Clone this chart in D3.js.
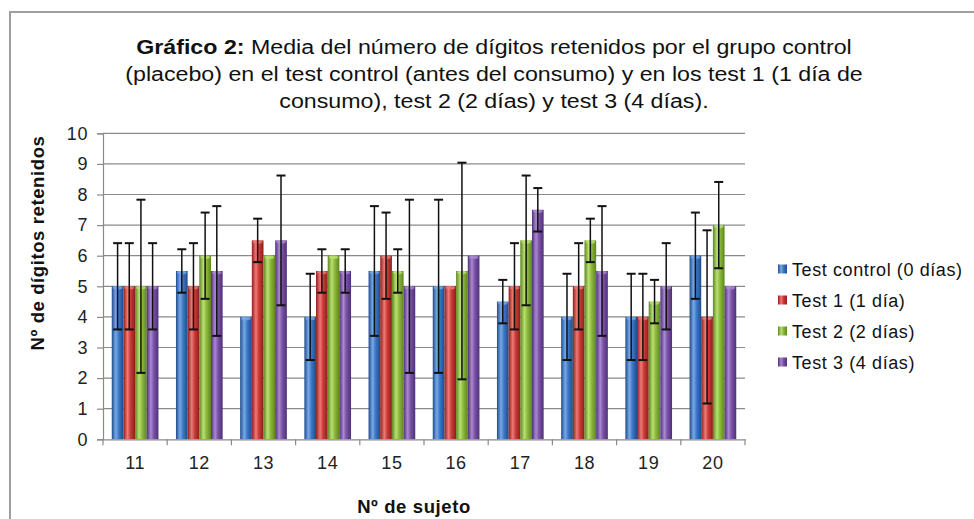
<!DOCTYPE html>
<html>
<head>
<meta charset="utf-8">
<script src="https://cdn.jsdelivr.net/npm/d3@7"></script>
<style>
html,body{margin:0;padding:0;background:#fff;}
svg{display:block;font-family:"Liberation Sans",Arial,Helvetica,sans-serif;}
</style>
</head>
<body>
<svg id="chart" width="974" height="519"></svg>
<script>
// ---- data ----
const subjects = ["11","12","13","14","15","16","17","18","19","20"];
const seriesNames = ["Test control (0 días)","Test 1 (1 día)","Test 2 (2 días)","Test 3 (4 días)"];
const controlValues = [5, 5.5, 4, 4, 5.5, 5, 4.5, 4, 4, 6];
const test1Values   = [5, 5, 6.5, 5.5, 6, 5, 5, 5, 4, 4];
const test2Values   = [5, 6, 6, 6, 5.5, 5.5, 6.5, 6.5, 4.5, 7];
const test3Values   = [5, 5.5, 6.5, 5.5, 5, 6, 7.5, 5.5, 5, 5];
const controlErrors = [1.41, 0.71, 0, 1.41, 2.12, 2.83, 0.71, 1.41, 1.41, 1.41];
const test1Errors   = [1.41, 1.41, 0.71, 0.71, 1.41, 0, 1.41, 1.41, 1.41, 2.83];
const test2Errors   = [2.83, 1.41, 0, 0, 0.71, 3.54, 2.12, 0.71, 0.71, 1.41];
const test3Errors   = [1.41, 2.12, 2.12, 0.71, 2.83, 0, 0.71, 2.12, 1.41, 0];
const yTicks = [0,1,2,3,4,5,6,7,8,9,10];
const titleLines = [
  ["Gráfico 2:", " Media del número de dígitos retenidos por el grupo control"],
  ["", "(placebo) en el test control (antes del consumo) y en los test 1 (1 día de"],
  ["", "consumo), test 2 (2 días) y test 3 (4 días)."]
];
const yTitle = "Nº de dígitos retenidos";
const xTitle = "Nº de sujeto";

const allValues = [controlValues, test1Values, test2Values, test3Values];
const allErrors = [controlErrors, test1Errors, test2Errors, test3Errors];
const colors = ["#3b78c6", "#cc3a37", "#8cba3c", "#7a52a6"];
const darkColors = ["#1e4c8c", "#8a1f1d", "#5e8420", "#4f3078"];
const lightColors = ["#78a9e6", "#ee7a76", "#b9e070", "#a989d0"];

const svg = d3.select("#chart");
const LS = 0.6;

// outer frame
svg.append("rect").attr("x", 10).attr("y", 12).attr("width", 1000).attr("height", 600)
  .attr("fill", "none").attr("stroke", "#9e9e9e").attr("stroke-width", 2);

// gradients
const defs = svg.append("defs");
colors.forEach((c, i) => {
  const g = defs.append("linearGradient").attr("id", "g" + i)
    .attr("x1", "0%").attr("x2", "100%").attr("y1", "0%").attr("y2", "0%");
  g.append("stop").attr("offset", "0%").attr("stop-color", darkColors[i]);
  g.append("stop").attr("offset", "35%").attr("stop-color", lightColors[i]);
  g.append("stop").attr("offset", "60%").attr("stop-color", c);
  g.append("stop").attr("offset", "100%").attr("stop-color", darkColors[i]);
});

// scales
const plotLeft = 103, plotRight = 745, plotTop = 133.3, plotBottom = 439.3;
const y = d3.scaleLinear().domain([0, 10]).range([plotBottom, plotTop]);
const x0 = d3.scaleBand().domain(subjects).range([plotLeft, plotRight]).paddingInner(0).paddingOuter(0);
const barW = x0.bandwidth() / 5.5;
const x1 = d3.scaleBand().domain(d3.range(seriesNames.length)).range([0.75 * barW, 4.75 * barW]);

// gridlines
svg.append("g").selectAll("line").data(yTicks.filter(t => t > 0)).join("line")
  .attr("x1", plotLeft).attr("x2", plotRight)
  .attr("y1", d => y(d)).attr("y2", d => y(d))
  .attr("stroke", "#8a8a8a").attr("stroke-width", 1.2);

// y axis
const yAxis = svg.append("g").attr("transform", `translate(${plotLeft},0)`)
  .call(d3.axisLeft(y).tickValues(yTicks).tickSize(6).tickPadding(9).tickFormat(d3.format("d")));
yAxis.select(".domain").attr("stroke", "#8a8a8a").attr("stroke-width", 1.2);
yAxis.selectAll(".tick line").attr("stroke", "#8a8a8a").attr("stroke-width", 1.2);
yAxis.selectAll("text").attr("font-size", 18).attr("letter-spacing", LS).attr("fill", "#222")
  .attr("font-family", "Liberation Sans, Arial, sans-serif");

// bars
const groups = svg.append("g").selectAll("g").data(subjects).join("g")
  .attr("transform", d => `translate(${x0(d)},0)`);

const barData = (s, si) => seriesNames.map((n, k) => ({k, v: allValues[k][si], e: allErrors[k][si]}));

groups.each(function(s, si) {
  const g = d3.select(this);
  const data = barData(s, si);
  g.selectAll("rect").data(data).join("rect")
    .attr("x", d => x1(d.k)).attr("width", x1.bandwidth())
    .attr("y", d => y(d.v)).attr("height", d => y(0) - y(d.v))
    .attr("fill", d => `url(#g${d.k})`);
  g.selectAll("ellipse").data(data).join("ellipse")
    .attr("cx", d => x1(d.k) + x1.bandwidth() / 2).attr("cy", d => y(d.v) + 1.5)
    .attr("rx", x1.bandwidth() / 2 - 1).attr("ry", 1.8)
    .attr("fill", d => lightColors[d.k]).attr("opacity", 0.8);
  const eb = g.selectAll("g.err").data(data.filter(d => d.e > 0)).join("g").attr("class", "err");
  const cx = d => x1(d.k) + x1.bandwidth() / 2;
  eb.append("line").attr("x1", cx).attr("x2", cx)
    .attr("y1", d => y(d.v + d.e)).attr("y2", d => y(d.v - d.e))
    .attr("stroke", "#111").attr("stroke-width", 1.5);
  [1, -1].forEach(sg => {
    eb.append("line").attr("x1", d => cx(d) - 4.5).attr("x2", d => cx(d) + 4.5)
      .attr("y1", d => y(d.v + sg * d.e)).attr("y2", d => y(d.v + sg * d.e))
      .attr("stroke", "#111").attr("stroke-width", 2);
  });
});

// x axis
const xAxis = svg.append("g").attr("transform", `translate(0,${plotBottom})`)
  .call(d3.axisBottom(x0).tickSize(0).tickPadding(17));
xAxis.select(".domain").attr("stroke", "#8a8a8a").attr("stroke-width", 1.2);
xAxis.selectAll("text").attr("font-size", 18).attr("letter-spacing", LS).attr("fill", "#222")
  .attr("font-family", "Liberation Sans, Arial, sans-serif");
const bounds = subjects.map(s => x0(s)).concat([plotRight]);
svg.append("g").selectAll("line").data(bounds).join("line")
  .attr("x1", d => d).attr("x2", d => d).attr("y1", plotBottom).attr("y2", plotBottom + 6)
  .attr("stroke", "#8a8a8a").attr("stroke-width", 1.2);

// title (reference font is horizontally wide: stretch a little)
titleLines.forEach((ln, i) => {
  const t = svg.append("text").attr("text-anchor", "middle").attr("font-size", 19.5)
    .attr("fill", "#111").attr("x", 0).attr("y", 0)
    .attr("transform", `translate(494,${54 + i * 27}) scale(1.19,1)`);
  if (ln[0]) t.append("tspan").attr("font-weight", "bold").text(ln[0]);
  t.append("tspan").text(ln[1]);
});

// axis titles
svg.append("text").attr("transform", "translate(44,243) rotate(-90)")
  .attr("text-anchor", "middle").attr("font-weight", "bold").attr("font-size", 18.5)
  .attr("letter-spacing", LS).attr("fill", "#111").text(yTitle);
svg.append("text").attr("x", 414).attr("y", 513)
  .attr("text-anchor", "middle").attr("font-weight", "bold").attr("font-size", 18.5)
  .attr("letter-spacing", LS).attr("fill", "#111").text(xTitle);

// legend
const legend = svg.append("g").selectAll("g").data(seriesNames).join("g")
  .attr("transform", (d, i) => `translate(778,${269 + i * 31})`);
legend.append("rect").attr("x", 0).attr("y", -4.5).attr("width", 9).attr("height", 9)
  .attr("fill", (d, i) => `url(#g${i})`);
legend.append("text").attr("x", 14).attr("y", 6.5).attr("font-size", 18)
  .attr("letter-spacing", LS).attr("fill", "#111").text(d => d);
</script>
</body>
</html>
